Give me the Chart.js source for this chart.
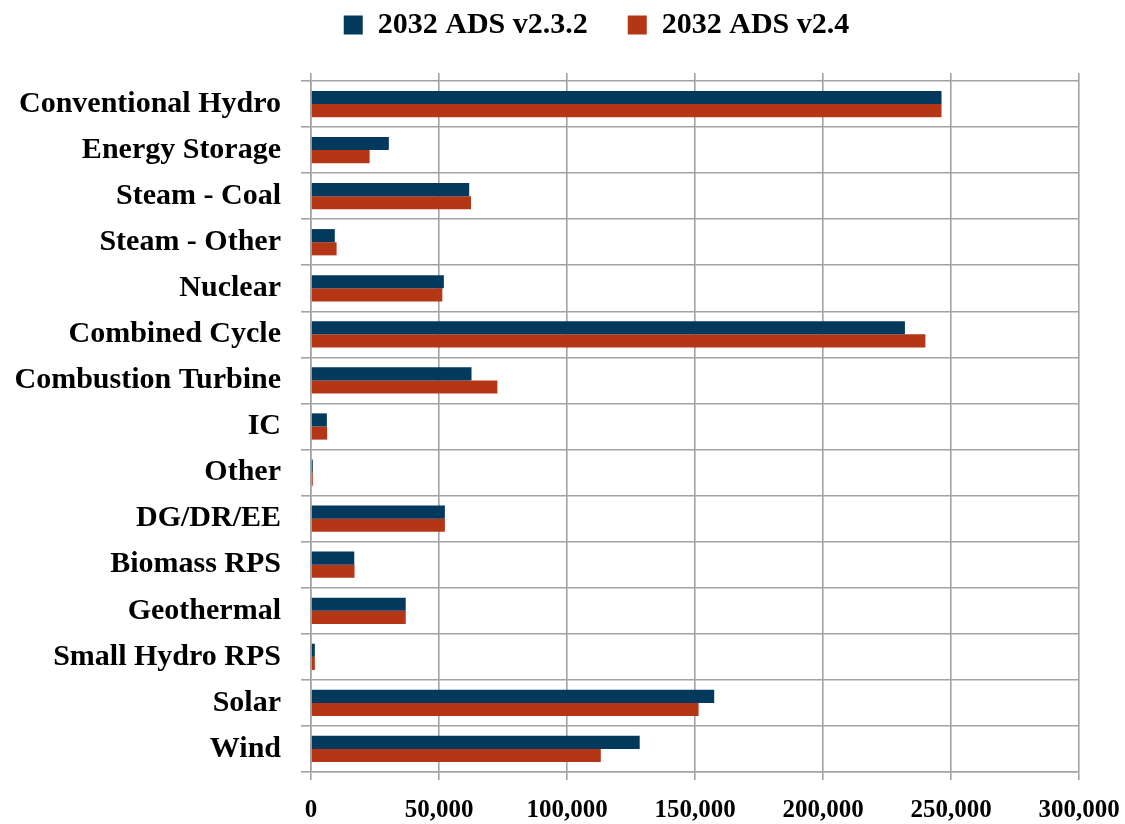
<!DOCTYPE html>
<html>
<head>
<meta charset="utf-8">
<script src="https://cdn.jsdelivr.net/npm/chart.js@4/dist/chart.umd.min.js"></script>
<style>
  html, body { margin: 0; padding: 0; background: #ffffff; }
  #wrap { width: 1125px; height: 824px; position: relative; }
</style>
</head>
<body>
<div id="wrap"><canvas id="c"></canvas></div>
<script>
const categories = [
  "Conventional Hydro", "Energy Storage", "Steam - Coal", "Steam - Other", "Nuclear",
  "Combined Cycle", "Combustion Turbine", "IC", "Other", "DG/DR/EE",
  "Biomass RPS", "Geothermal", "Small Hydro RPS", "Solar", "Wind"
];
const seriesNames = ["2032 ADS v2.3.2", "2032 ADS v2.4"];
const v232 = [246300, 30400, 61800, 9300, 51900, 232000, 62700, 6200, 700, 52300, 16900, 37000, 1500, 157500, 128400];
const v24  = [246300, 22900, 62500, 10000, 51300, 240000, 72800, 6300, 700, 52300, 17000, 37000, 1500, 151400, 113200];
const xTicks = [0, 50000, 100000, 150000, 200000, 250000, 300000];

const FONT = "'Liberation Serif', 'DejaVu Serif', serif";
const gridColor = "#a3a3a3";

const legendTweak = {
  id: "legendTweak",
  afterInit(chart) {
    const lg = chart.legend;
    if (!lg) return;
    const orig = lg.fit.bind(lg);
    lg.fit = function () { orig(); this.height = 73; };
  },
  afterLayout(chart) {
    const lg = chart.legend;
    if (!lg) return;
    lg.left += 57;
    lg.right += 57;
  }
};

new Chart(document.getElementById("c"), {
  type: "bar",
  data: {
    labels: categories,
    datasets: [
      { label: seriesNames[0], data: v232, backgroundColor: "#03395c", borderWidth: 0 },
      { label: seriesNames[1], data: v24, backgroundColor: "#b53617", borderWidth: 0 }
    ]
  },
  plugins: [legendTweak],
  options: {
    indexAxis: "y",
    responsive: true,
    maintainAspectRatio: false,
    animation: false,
    datasets: { bar: { barPercentage: 1.0, categoryPercentage: 0.57 } },
    layout: { padding: { top: 0, right: 46, left: 0, bottom: 0 } },
    plugins: {
      legend: {
        position: "top",
        labels: {
          font: { family: FONT, size: 30, weight: "bold" },
          color: "#000",
          boxWidth: 19, boxHeight: 19, padding: 10,
          generateLabels(chart) {
            const items = Chart.defaults.plugins.legend.labels.generateLabels(chart);
            items.forEach((it, i) => { if (i === 0) it.text = it.text + "    "; });
            return items;
          }
        }
      },
      tooltip: { enabled: false }
    },
    scales: {
      x: {
        min: 0, max: 300000,
        afterBuildTicks: (axis) => { axis.ticks = xTicks.map(v => ({ value: v })); },
        afterFit: (axis) => { axis.height = 52; axis.paddingLeft = 0; axis.paddingRight = 0; },
        ticks: {
          font: { family: FONT, size: 25, weight: "bold" },
          color: "#000",
          padding: 16,
          maxRotation: 0,
          callback: (v) => Number(v).toLocaleString("en-US")
        },
        grid: { color: gridColor, lineWidth: 1.6, tickLength: 8 },
        border: { color: gridColor, width: 1.6 }
      },
      x2: {
        position: "top",
        min: 0, max: 300000,
        afterBuildTicks: (axis) => { axis.ticks = xTicks.map(v => ({ value: v })); },
        afterFit: (axis) => { axis.height = 8; axis.paddingLeft = 0; axis.paddingRight = 0; },
        ticks: { display: false },
        grid: { color: gridColor, lineWidth: 1.6, tickLength: 8, drawOnChartArea: false },
        border: { display: false }
      },
      y: {
        afterFit: (axis) => { axis.width = 311; },
        ticks: {
          font: { family: FONT, size: 30, weight: "bold" },
          color: "#000",
          padding: 20,
          autoSkip: false
        },
        grid: { color: gridColor, lineWidth: 1.6, tickLength: 10, offset: true },
        border: { color: gridColor, width: 1.6 }
      }
    }
  }
});
</script>
</body>
</html>
